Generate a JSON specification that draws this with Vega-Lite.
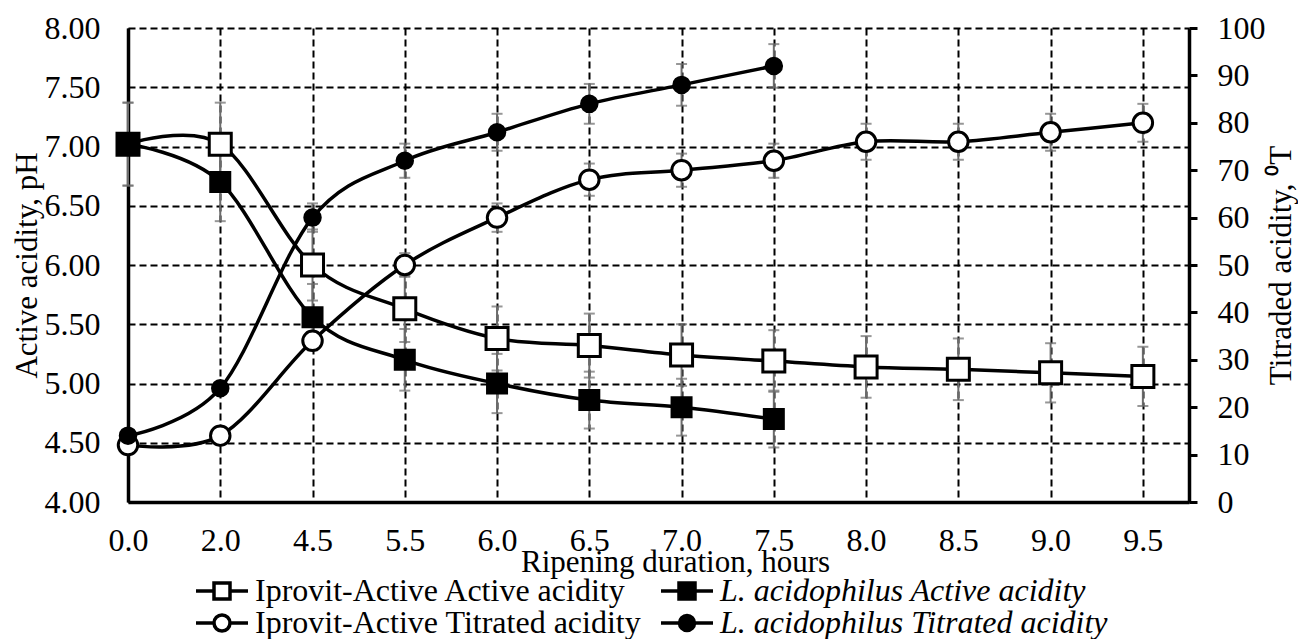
{
  "$schema": "https://vega.github.io/schema/vega-lite/v6.json",
  "width": 1061,
  "height": 474,
  "autosize": {"type": "none"},
  "padding": {"left": 128, "top": 28, "right": 109, "bottom": 137},
  "background": "white",
  "config": {
    "view": {"stroke": null},
    "font": "Liberation Serif",
    "axis": {
      "labelFont": "Liberation Serif",
      "labelFontSize": 32,
      "labelColor": "black",
      "titleFont": "Liberation Serif",
      "titleFontSize": 31,
      "titleFontWeight": "normal",
      "titleColor": "black",
      "domainColor": "black",
      "domainWidth": 3.5,
      "tickColor": "black"
    },
    "legend": {
      "labelFont": "Liberation Serif",
      "labelFontSize": 32,
      "labelColor": "black"
    }
  },
  "data": {
    "values": [
      {"hour": "0.0", "series": "Iprovit-Active Active acidity", "group": "pH", "value": 7.02, "lo": 6.67, "hi": 7.37},
      {"hour": "2.0", "series": "Iprovit-Active Active acidity", "group": "pH", "value": 7.02, "lo": 6.67, "hi": 7.37},
      {"hour": "4.5", "series": "Iprovit-Active Active acidity", "group": "pH", "value": 6.00, "lo": 5.70, "hi": 6.30},
      {"hour": "5.5", "series": "Iprovit-Active Active acidity", "group": "pH", "value": 5.63, "lo": 5.35, "hi": 5.91},
      {"hour": "6.0", "series": "Iprovit-Active Active acidity", "group": "pH", "value": 5.38, "lo": 5.11, "hi": 5.65},
      {"hour": "6.5", "series": "Iprovit-Active Active acidity", "group": "pH", "value": 5.32, "lo": 5.05, "hi": 5.59},
      {"hour": "7.0", "series": "Iprovit-Active Active acidity", "group": "pH", "value": 5.24, "lo": 4.98, "hi": 5.50},
      {"hour": "7.5", "series": "Iprovit-Active Active acidity", "group": "pH", "value": 5.19, "lo": 4.93, "hi": 5.45},
      {"hour": "8.0", "series": "Iprovit-Active Active acidity", "group": "pH", "value": 5.14, "lo": 4.88, "hi": 5.40},
      {"hour": "8.5", "series": "Iprovit-Active Active acidity", "group": "pH", "value": 5.12, "lo": 4.86, "hi": 5.38},
      {"hour": "9.0", "series": "Iprovit-Active Active acidity", "group": "pH", "value": 5.09, "lo": 4.84, "hi": 5.34},
      {"hour": "9.5", "series": "Iprovit-Active Active acidity", "group": "pH", "value": 5.06, "lo": 4.81, "hi": 5.31},
      {"hour": "0.0", "series": "L. acidophilus Active acidity", "group": "pH", "value": 7.02, "lo": 6.67, "hi": 7.37},
      {"hour": "2.0", "series": "L. acidophilus Active acidity", "group": "pH", "value": 6.70, "lo": 6.37, "hi": 7.04},
      {"hour": "4.5", "series": "L. acidophilus Active acidity", "group": "pH", "value": 5.56, "lo": 5.28, "hi": 5.84},
      {"hour": "5.5", "series": "L. acidophilus Active acidity", "group": "pH", "value": 5.20, "lo": 4.94, "hi": 5.46},
      {"hour": "6.0", "series": "L. acidophilus Active acidity", "group": "pH", "value": 5.00, "lo": 4.75, "hi": 5.25},
      {"hour": "6.5", "series": "L. acidophilus Active acidity", "group": "pH", "value": 4.86, "lo": 4.62, "hi": 5.10},
      {"hour": "7.0", "series": "L. acidophilus Active acidity", "group": "pH", "value": 4.80, "lo": 4.56, "hi": 5.04},
      {"hour": "7.5", "series": "L. acidophilus Active acidity", "group": "pH", "value": 4.70, "lo": 4.46, "hi": 4.94},
      {"hour": "0.0", "series": "Iprovit-Active Titrated acidity", "group": "T", "value": 12, "lo": 11.4, "hi": 12.6},
      {"hour": "2.0", "series": "Iprovit-Active Titrated acidity", "group": "T", "value": 14, "lo": 13.3, "hi": 14.7},
      {"hour": "4.5", "series": "Iprovit-Active Titrated acidity", "group": "T", "value": 34, "lo": 32.3, "hi": 35.7},
      {"hour": "5.5", "series": "Iprovit-Active Titrated acidity", "group": "T", "value": 50, "lo": 47.5, "hi": 52.5},
      {"hour": "6.0", "series": "Iprovit-Active Titrated acidity", "group": "T", "value": 60, "lo": 57, "hi": 63},
      {"hour": "6.5", "series": "Iprovit-Active Titrated acidity", "group": "T", "value": 68, "lo": 64.6, "hi": 71.4},
      {"hour": "7.0", "series": "Iprovit-Active Titrated acidity", "group": "T", "value": 70, "lo": 66.5, "hi": 73.5},
      {"hour": "7.5", "series": "Iprovit-Active Titrated acidity", "group": "T", "value": 72, "lo": 68.4, "hi": 75.6},
      {"hour": "8.0", "series": "Iprovit-Active Titrated acidity", "group": "T", "value": 76, "lo": 72.2, "hi": 79.8},
      {"hour": "8.5", "series": "Iprovit-Active Titrated acidity", "group": "T", "value": 76, "lo": 72.2, "hi": 79.8},
      {"hour": "9.0", "series": "Iprovit-Active Titrated acidity", "group": "T", "value": 78, "lo": 74.1, "hi": 81.9},
      {"hour": "9.5", "series": "Iprovit-Active Titrated acidity", "group": "T", "value": 80, "lo": 76, "hi": 84},
      {"hour": "0.0", "series": "L. acidophilus Titrated acidity", "group": "T", "value": 14, "lo": 13.3, "hi": 14.7},
      {"hour": "2.0", "series": "L. acidophilus Titrated acidity", "group": "T", "value": 24, "lo": 22.8, "hi": 25.2},
      {"hour": "4.5", "series": "L. acidophilus Titrated acidity", "group": "T", "value": 60, "lo": 57, "hi": 63},
      {"hour": "5.5", "series": "L. acidophilus Titrated acidity", "group": "T", "value": 72, "lo": 68.4, "hi": 75.6},
      {"hour": "6.0", "series": "L. acidophilus Titrated acidity", "group": "T", "value": 78, "lo": 74.1, "hi": 81.9},
      {"hour": "6.5", "series": "L. acidophilus Titrated acidity", "group": "T", "value": 84, "lo": 79.8, "hi": 88.2},
      {"hour": "7.0", "series": "L. acidophilus Titrated acidity", "group": "T", "value": 88, "lo": 83.6, "hi": 92.4},
      {"hour": "7.5", "series": "L. acidophilus Titrated acidity", "group": "T", "value": 92, "lo": 87.4, "hi": 96.6}
    ]
  },
  "resolve": {"scale": {"y": "independent"}},
  "layer": [
    {
      "transform": [{"filter": "datum.group === 'pH'"}],
      "mark": {"type": "errorbar", "ticks": {"size": 11, "thickness": 2, "color": "#6b6b6b"}, "rule": {"strokeWidth": 2, "color": "#6b6b6b"}},
      "encoding": {
        "x": {
          "field": "hour", "type": "ordinal",
          "scale": {"type": "point", "domain": ["0.0","2.0","4.5","5.5","6.0","6.5","7.0","7.5","8.0","8.5","9.0","9.5"], "padding": 0.25, "align": 0},
          "axis": {
            "title": "Ripening duration, hours",
            "labelAngle": 0,
            "ticks": false,
            "labelPadding": 23,
            "grid": true,
            "gridColor": "black",
            "gridDash": [7, 4],
            "gridWidth": 2,
            "gridOpacity": 1,
            "titleBaseline": "top",
            "titleY": 45,
            "titleX": 547
          }
        },
        "y": {"field": "lo", "type": "quantitative", "scale": {"domain": [4, 8], "nice": false, "zero": false}, "axis": null},
        "y2": {"field": "hi"}
      }
    },
    {
      "transform": [{"filter": "datum.group === 'T'"}],
      "mark": {"type": "errorbar", "ticks": {"size": 11, "thickness": 2, "color": "#6b6b6b"}, "rule": {"strokeWidth": 2, "color": "#6b6b6b"}},
      "encoding": {
        "x": {"field": "hour", "type": "ordinal"},
        "y": {"field": "lo", "type": "quantitative", "scale": {"domain": [0, 100], "nice": false}, "axis": null},
        "y2": {"field": "hi"}
      }
    },
    {
      "transform": [{"filter": "datum.group === 'pH'"}],
      "mark": {"type": "line", "interpolate": "cardinal", "color": "black", "strokeWidth": 3.5},
      "encoding": {
        "x": {"field": "hour", "type": "ordinal"},
        "y": {"field": "value", "type": "quantitative", "scale": {"domain": [4, 8], "nice": false, "zero": false}, "axis": null},
        "detail": {"field": "series"}
      }
    },
    {
      "transform": [{"filter": "datum.group === 'T'"}],
      "mark": {"type": "line", "interpolate": "cardinal", "color": "black", "strokeWidth": 3.5},
      "encoding": {
        "x": {"field": "hour", "type": "ordinal"},
        "y": {"field": "value", "type": "quantitative", "scale": {"domain": [0, 100], "nice": false}, "axis": null},
        "detail": {"field": "series"}
      }
    },
    {
      "transform": [{"filter": "datum.group === 'pH'"}],
      "mark": {"type": "point", "shape": "square", "filled": true, "stroke": "black", "strokeWidth": 3, "opacity": 1},
      "encoding": {
        "x": {"field": "hour", "type": "ordinal"},
        "y": {
          "field": "value", "type": "quantitative",
          "scale": {"domain": [4, 8], "nice": false, "zero": false},
          "axis": {
            "orient": "left",
            "title": "Active acidity, pH",
            "values": [4, 4.5, 5, 5.5, 6, 6.5, 7, 7.5, 8],
            "format": ".2f",
            "ticks": false,
            "labelPadding": 28,
            "labelFlush": false,
            "grid": true,
            "gridColor": "black",
            "gridDash": [7, 4],
            "gridWidth": 2,
            "gridOpacity": 1,
            "titleBaseline": "alphabetic",
            "titleX": -92
          }
        },
        "fill": {"condition": {"test": "datum.series === 'L. acidophilus Active acidity'", "value": "black"}, "value": "white"},
        "size": {"condition": {"test": "datum.series === 'L. acidophilus Active acidity'", "value": 361}, "value": 484}
      }
    },
    {
      "transform": [{"filter": "datum.group === 'T'"}],
      "mark": {"type": "point", "shape": "circle", "filled": true, "stroke": "black", "strokeWidth": 3, "opacity": 1},
      "encoding": {
        "x": {"field": "hour", "type": "ordinal"},
        "y": {
          "field": "value", "type": "quantitative",
          "scale": {"domain": [0, 100], "nice": false},
          "axis": {
            "orient": "right",
            "title": "Titraded acidity, ⁰T",
            "values": [0, 10, 20, 30, 40, 50, 60, 70, 80, 90, 100],
            "ticks": true,
            "tickSize": 8,
            "tickWidth": 3,
            "labelPadding": 20,
            "labelFlush": false,
            "grid": false,
            "titleAngle": 270,
            "titleBaseline": "alphabetic",
            "titleX": 101
          }
        },
        "fill": {"condition": {"test": "datum.series === 'L. acidophilus Titrated acidity'", "value": "black"}, "value": "white"},
        "size": {"condition": {"test": "datum.series === 'L. acidophilus Titrated acidity'", "value": 240}, "value": 380}
      }
    },
    {
      "mark": {"type": "point", "filled": true, "stroke": "black", "strokeWidth": 3.5, "opacity": 0},
      "encoding": {
        "shape": {
          "field": "series", "type": "nominal",
          "scale": {
            "domain": ["Iprovit-Active Active acidity", "L. acidophilus Active acidity", "Iprovit-Active Titrated acidity", "L. acidophilus Titrated acidity"],
            "range": [
              "M-2.6,0H-0.8M0.8,0H2.6M-0.8,-0.8H0.8V0.8H-0.8Z",
              "M-2.6,0H-0.8M0.8,0H2.6M-0.8,-0.8H0.8V0.8H-0.8Z",
              "M-2.6,0H-0.8M0.8,0H2.6M-0.8,0A0.8,0.8,0,1,0,0.8,0A0.8,0.8,0,1,0,-0.8,0Z",
              "M-2.6,0H-0.75M0.75,0H2.6M-0.75,0A0.75,0.75,0,1,0,0.75,0A0.75,0.75,0,1,0,-0.75,0Z"
            ]
          },
          "legend": {
            "title": null,
            "orient": "none",
            "legendX": 78,
            "legendY": 547,
            "columns": 2,
            "direction": "horizontal",
            "symbolSize": 400,
            "symbolStrokeWidth": 3.5,
            "symbolStrokeColor": "black",
            "symbolOpacity": 1,
            "labelOffset": 17,
            "columnPadding": 12,
            "rowPadding": -1,
            "labelLimit": 700,
            "labelFontStyle": {"expr": "indexof(datum.label, 'L.') === 0 ? 'italic' : 'normal'"}
          }
        },
        "fill": {
          "field": "series", "type": "nominal",
          "scale": {
            "domain": ["Iprovit-Active Active acidity", "L. acidophilus Active acidity", "Iprovit-Active Titrated acidity", "L. acidophilus Titrated acidity"],
            "range": ["white", "black", "white", "black"]
          },
          "legend": {
            "title": null,
            "orient": "none",
            "legendX": 78,
            "legendY": 547,
            "columns": 2,
            "direction": "horizontal",
            "symbolSize": 400,
            "symbolStrokeWidth": 3.5,
            "symbolStrokeColor": "black",
            "symbolOpacity": 1,
            "labelOffset": 17,
            "columnPadding": 12,
            "rowPadding": -1,
            "labelLimit": 700,
            "labelFontStyle": {"expr": "indexof(datum.label, 'L.') === 0 ? 'italic' : 'normal'"}
          }
        },
        "stroke": {
          "field": "series", "type": "nominal",
          "scale": {
            "domain": ["Iprovit-Active Active acidity", "L. acidophilus Active acidity", "Iprovit-Active Titrated acidity", "L. acidophilus Titrated acidity"],
            "range": ["black", "black", "black", "black"]
          },
          "legend": {
            "title": null,
            "orient": "none",
            "legendX": 78,
            "legendY": 547,
            "columns": 2,
            "direction": "horizontal",
            "symbolSize": 400,
            "symbolStrokeWidth": 3.5,
            "symbolStrokeColor": "black",
            "symbolOpacity": 1,
            "labelOffset": 17,
            "columnPadding": 12,
            "rowPadding": -1,
            "labelLimit": 700,
            "labelFontStyle": {"expr": "indexof(datum.label, 'L.') === 0 ? 'italic' : 'normal'"}
          }
        }
      }
    }
  ]
}
